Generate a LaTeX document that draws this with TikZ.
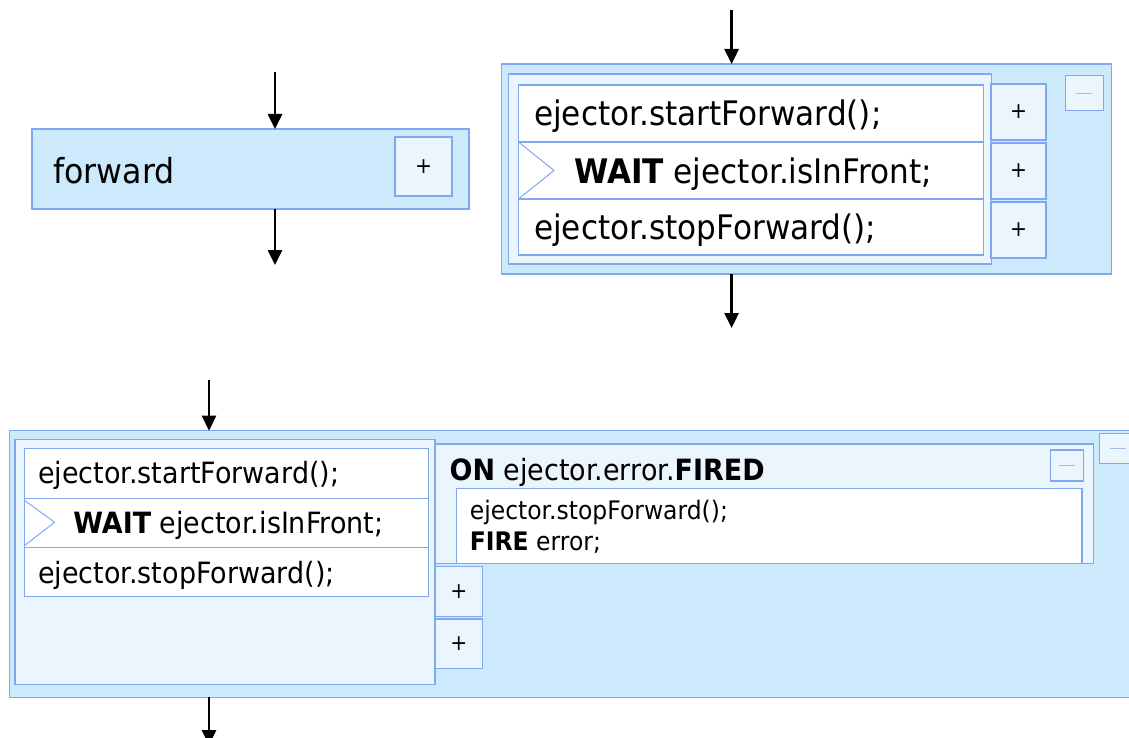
\documentclass[tikz,border=0pt]{standalone}
\usepackage{fontspec}
\setmainfont[FakeStretch=0.92]{DejaVu Sans}
\usetikzlibrary{arrows.meta}
\definecolor{bord}{RGB}{128,168,240}
\definecolor{outerfill}{RGB}{204,234,252}
\definecolor{innerfill}{RGB}{235,245,254}
\definecolor{minusc}{RGB}{160,190,235}
\begin{document}
\begin{tikzpicture}[x=1pt,y=-1pt,
 box/.style={draw=bord,line width=1.2pt,inner sep=0pt,outer sep=0pt,anchor=north west},
 outerbox/.style={box,fill=outerfill},
 framebox/.style={box,fill=innerfill},
 rowbox/.style={box,fill=white},
 btn/.style={box,fill=innerfill,font=\fontsize{22}{22}\selectfont},
 bigcode/.style={anchor=base west,inner sep=0pt,font=\fontsize{33.8}{40}\selectfont},
 code/.style={anchor=base west,inner sep=0pt,font=\fontsize{29.3}{35}\selectfont},
 smallcode/.style={anchor=base west,inner sep=0pt,font=\fontsize{25.5}{31}\selectfont},
 flow/.style={line width=2.6pt,-{Triangle[width=14pt,length=15pt]}},
 minusline/.style={draw=minusc,line width=1.2pt},
 tri/.style={draw=bord,line width=1pt}]
\useasboundingbox (0,0) rectangle (1129,738);
\clip (0,0) rectangle (1129,738);

% ---------- forward block ----------
\node[outerbox,minimum width=437pt,minimum height=80pt] (fwd) at (32,129) {};
\node[btn,minimum width=57pt,minimum height=59pt] (fwdplus) at (395,137) {+};
\node[anchor=base west,inner sep=0pt,font=\fontsize{34.4}{40}\selectfont] (fwdtxt) at (53,183) {forward};
\coordinate (ftop) at (275,72);
\coordinate (fbot) at (275,265);
\draw[flow] (ftop) -- (ftop |- fwd.north);
\draw[flow] (fbot |- fwd.south) -- (fbot);

% ---------- expanded block (top right) ----------
\node[outerbox,minimum width=610pt,minimum height=210pt] (tr) at (501.4,64) {};
\node[framebox,minimum width=483pt,minimum height=190pt] (trf) at (508.3,74) {};
\node[rowbox,minimum width=465pt,minimum height=57pt] (tr1) at (518.5,85) {};
\node[rowbox,minimum width=465pt,minimum height=57pt] (tr2) at (518.5,142) {};
\node[rowbox,minimum width=465pt,minimum height=56pt] (tr3) at (518.5,199) {};
\node[btn,minimum width=55pt,minimum height=56pt] (trp1) at (991,84) {+};
\node[btn,minimum width=55pt,minimum height=56pt] (trp2) at (991,143) {+};
\node[btn,minimum width=55pt,minimum height=56pt] (trp3) at (991,202) {+};
\node[btn,minimum width=38pt,minimum height=35pt] (trmin) at (1065.4,75.7) {};
\draw[minusline] ([xshift=-8pt]trmin.center) -- ([xshift=8pt]trmin.center);
\draw[tri] (tr2.north west) -- ++(35.5,28.5) -- (tr2.south west);
\node[bigcode] (trt1) at (534,126) {ejector.startForward();};
\node[bigcode] (trt2) at (574,183) {\textbf{WAIT} ejector.isInFront;};
\node[bigcode] (trt3) at (534,239) {ejector.stopForward();};
\coordinate (trtop) at (731.6,10);
\coordinate (trbot) at (731.6,328);
\draw[flow] (trtop) -- (trtop |- tr.north);
\draw[flow] (trbot |- tr.south) -- (trbot);

% ---------- block with ON handler (bottom) ----------
\node[outerbox,minimum width=1131pt,minimum height=266.6pt] (bt) at (9.3,430.7) {};
\node[framebox,minimum width=658.7pt,minimum height=119.3pt] (onf) at (435,444) {};
\node[framebox,minimum width=420pt,minimum height=245pt] (btf) at (15,439.3) {};
\node[rowbox,minimum width=404pt,minimum height=49.6pt] (bt1) at (24.3,448.7) {};
\node[rowbox,minimum width=404pt,minimum height=49.4pt] (bt2) at (24.3,498.3) {};
\node[rowbox,minimum width=404pt,minimum height=48.6pt] (bt3) at (24.3,547.7) {};
\node[btn,minimum width=47.5pt,minimum height=49.6pt] (btp1) at (435,566.7) {+};
\node[btn,minimum width=47.5pt,minimum height=49.3pt] (btp2) at (435,619) {+};
\draw[tri] ([yshift=-2pt]bt2.north west) -- ++(30.3,22) -- ([yshift=2pt]bt2.south west);
\node[code] (btt1) at (38,483.3) {ejector.startForward();};
\node[code] (btt2) at (73.2,533.3) {\textbf{WAIT} ejector.isInFront;};
\node[code] (btt3) at (38,583.3) {ejector.stopForward();};
% ON handler
\node[rowbox,minimum width=625.4pt,minimum height=75pt] (onbody) at (456.6,488.3) {};
\node[code] (onhead) at (449.4,480) {\textbf{ON} ejector.error.\textbf{FIRED}};
\node[smallcode] (onl1) at (469.7,519.3) {ejector.stopForward();};
\node[smallcode] (onl2) at (469.7,550) {\textbf{FIRE} error;};
\node[btn,minimum width=33pt,minimum height=31pt] (onmin) at (1050.8,450) {};
\draw[minusline] ([xshift=-8pt]onmin.center) -- ([xshift=8pt]onmin.center);
\node[btn,minimum width=37.4pt,minimum height=30.4pt] (btmin) at (1099.6,433.3) {};
\draw[minusline] ([xshift=-8pt]btmin.center) -- ([xshift=8pt]btmin.center);
\coordinate (bttop) at (209,380);
\coordinate (btbot) at (209,745);
\draw[flow] (bttop) -- (bttop |- bt.north);
\draw[flow] (btbot |- bt.south) -- (btbot);
\end{tikzpicture}
\end{document}
